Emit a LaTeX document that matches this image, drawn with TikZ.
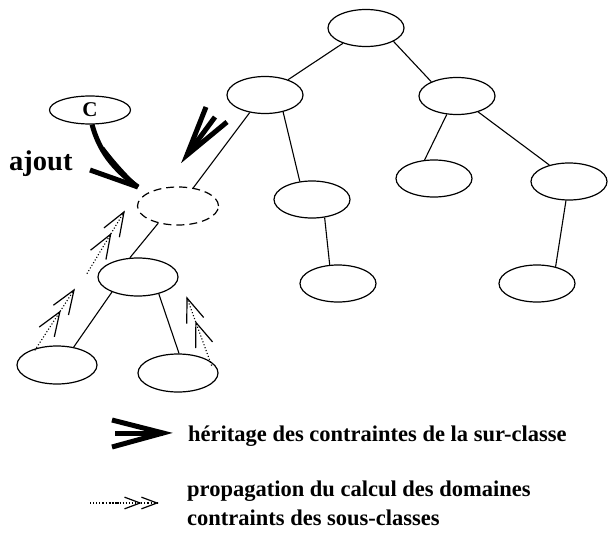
\documentclass[tikz,border=0pt]{standalone}
\usepackage{fontspec}
\setmainfont{Liberation Serif}
\usetikzlibrary{shapes.geometric}
\tikzset{
  cls/.style={ellipse,draw,line width=1.2pt,minimum width=76pt,minimum height=37pt,inner sep=0pt},
  newcls/.style={cls,dash pattern=on 8pt off 5pt},
  edge/.style={line width=1.1pt},
  heavy/.style={line width=5pt},
  proparr/.pic={
    \draw[dotted,line width=1.1pt] (-72,0) -- (0,0);
    \draw[line width=1.2pt] (-24,-9) -- (0,0) -- (-24,9);
    \draw[line width=1.2pt] (-50,-9) -- (-26,0) -- (-50,9);
  },
  legtext/.style={anchor=base west,inner sep=0pt,font=\fontsize{22.5}{26}\selectfont\bfseries}
}
\begin{document}
\begin{tikzpicture}[x=1pt,y=-1pt]
\useasboundingbox (0,0) rectangle (608,533);
% nodes
\node[cls] (top) at (366,28) {};
\node[cls] (l2) at (265,95) {};
\node[cls] (r2) at (457,96) {};
\node[cls] (m) at (312,199.5) {};
\node[cls] (n) at (434,178.5) {};
\node[cls] (o) at (569,181.5) {};
\node[cls] (p) at (338,283.5) {};
\node[cls] (q) at (537,283.5) {};
\node[newcls,minimum width=81pt,minimum height=38pt] (d) at (178,206) {};
\node[cls,minimum width=80pt,minimum height=38pt] (k) at (138,277) {};
\node[cls,minimum width=80pt,minimum height=38pt] (bl) at (57,365) {};
\node[cls,minimum width=80pt,minimum height=38pt] (br) at (178,373) {};
\node[cls,minimum width=81pt,minimum height=28pt,font=\fontsize{21}{23}\selectfont\bfseries] (c) at (90,110) {C};
% edges
\draw[edge] (top) -- (l2);
\draw[edge] (top.-26) -- (r2.151);
\draw[edge] (l2.229) -- (d.50);
\draw[edge] (l2.-43) -- (m.124);
\draw[edge] (r2.241) -- (n.117);
\draw[edge] (r2.-37) -- (o.140);
\draw[edge] (m.-55) -- (p.114);
\draw[edge] (o.-99) -- (q.42);
\draw[edge] (d.221) -- (k.113);
\draw[edge] (k.210) -- (bl.47);
\draw[edge] (k.-39) -- (br.87);
% ajout arrow
\coordinate (at) at (138,187);
\draw[heavy] (c.-82) .. controls (99,150) and (112,168) .. (at);
\draw[heavy] (90,170) -- (at);
\draw[line width=3pt] (103,148) .. controls (112,160) and (125,175) .. (at);
\node[anchor=base west,inner sep=0pt,font=\fontsize{28.5}{30}\selectfont\bfseries] (aj) at (9,170) {ajout};
% inheritance arrow
\coordinate (ht) at (187,155);
\draw[heavy] (206,107) -- (ht) -- (227,122);
\draw[heavy] (215,117) -- (ht);
% propagation arrows
\pic[rotate=57] at (74,290) {proparr};
\pic[rotate=59] at (124,212) {proparr};
\pic[rotate=110] at (187,298) {proparr};
% legend
\coordinate (lt) at (163,433);
\draw[heavy] (112,420) -- (lt) -- (112,447);
\draw[heavy] (115,433) -- (lt);
\node[legtext] (t1) at (188,441) {héritage des contraintes de la sur-classe};
\coordinate (ls) at (90,503);
\coordinate (le) at (120,503);
\draw[dotted,line width=1.1pt] (ls) -- (le);
\pic[scale=0.65] at (157,503) {proparr};
\node[legtext] (t2) at (187,496) {propagation du calcul des domaines};
\node[legtext] (t3) at (187,525) {contraints des sous-classes};
\end{tikzpicture}
\end{document}
